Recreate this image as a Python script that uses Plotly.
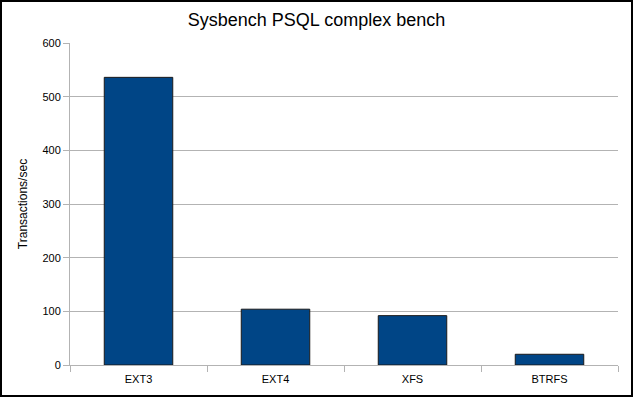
import plotly.graph_objects as go

categories = ["EXT3", "EXT4", "XFS", "BTRFS"]
values = [536, 104, 92, 20]
y_ticks = [0, 100, 200, 300, 400, 500, 600]

W, H = 633, 397
ml, mr, mt, mb = 70, 15, 43, 32
pw, ph = W - ml - mr, H - mt - mb

fig = go.Figure(go.Bar(
    x=categories, y=values,
    marker=dict(color="#004586", line=dict(color="#1a1a1a", width=1)),
    width=0.5,
))

fig.update_layout(
    width=W, height=H,
    margin=dict(l=ml, r=mr, t=mt, b=mb),
    paper_bgcolor="white", plot_bgcolor="white",
    font=dict(family="Liberation Sans, Arial, sans-serif", size=11, color="#000000"),
    title=dict(text="Sysbench PSQL complex bench", x=0.5, xanchor="center",
               y=1 - 20 / H, yanchor="middle",
               font=dict(size=18, color="#000000")),
    showlegend=False,
    bargap=0.5,
)
fig.update_xaxes(
    showline=True, linecolor="#b3b3b3", linewidth=1,
    ticks="outside", tickson="boundaries", ticklen=6, tickcolor="#b3b3b3",
    ticklabelstandoff=4,
    showgrid=False, tickfont=dict(size=11),
)
fig.update_yaxes(
    range=[0, 600], tickvals=y_ticks,
    showline=True, linecolor="#b3b3b3", linewidth=1,
    ticks="outside", ticklen=6, tickcolor="#b3b3b3",
    showgrid=True, gridcolor="#b3b3b3", gridwidth=1,
    zeroline=False,
    title=dict(text="Transactions/sec", font=dict(size=12), standoff=12),
    tickfont=dict(size=11),
)

# outer black frame around the whole image
fig.add_shape(type="rect", xref="paper", yref="paper",
              x0=-(ml - 1) / pw, x1=1 + (mr - 1) / pw,
              y0=-(mb - 1) / ph, y1=1 + (mt - 1) / ph,
              line=dict(color="black", width=2), layer="above")

fig.write_html("out.html",
               config={"displayModeBar": False},
               post_script="document.body.style.margin='0';document.body.style.overflow='hidden';")
